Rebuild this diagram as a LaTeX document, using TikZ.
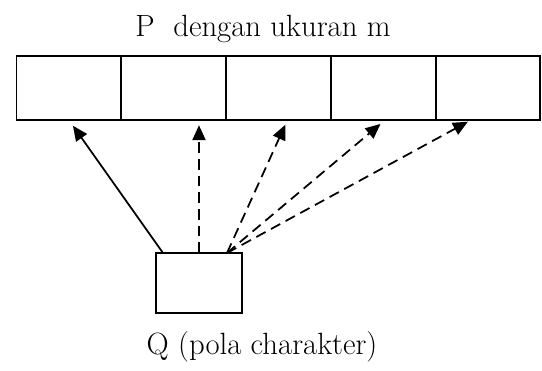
\documentclass[tikz,border=0pt]{standalone}
\usepackage{tikz}
\usetikzlibrary{arrows.meta,positioning,calc}

\begin{document}
\begin{tikzpicture}[
  x=0.02cm,y=0.02cm,
  font=\fontsize{17.5}{20}\selectfont,
  cell/.style={draw,line width=1.1pt,minimum width=2.096cm,minimum height=1.28cm,outer sep=0pt,inner sep=0pt},
  qbox/.style={draw,line width=1.1pt,minimum width=1.72cm,minimum height=1.2cm,outer sep=0pt,inner sep=0pt},
  arr/.style={-{Triangle[length=8.5pt,width=7.5pt]},line width=1pt},
  darr/.style={arr,dash pattern=on 6pt off 3.5pt},
]
\useasboundingbox (0,0) rectangle (542,370);

% array P
\node[cell] (c1) at (68.9,282) {};
\node[cell,right=0pt of c1] (c2) {};
\node[cell,right=0pt of c2] (c3) {};
\node[cell,right=0pt of c3] (c4) {};
\node[cell,right=0pt of c4] (c5) {};
\node (ptitle) at (263,341) {P\ \ dengan ukuran m};

% pattern Q
\node[qbox] (q) at (199,87) {};
\node (qlabel) at (262,23) {Q (pola charakter)};

\coordinate (qa) at ($(q.north west)+(7,0)$);
\coordinate (qb) at ($(q.north east)+(-15,0)$);

\draw[arr,shorten >=4pt] (qa) -- (c1.south);
\draw[darr,shorten >=3pt] (q.north) -- (q.north |- c2.south);
\draw[darr,shorten >=3pt] (qb) -- ($(c3.south)+(9,0)$);
\draw[darr,shorten >=3.5pt] (qb) -- ($(c4.south)+(2,0)$);
\draw[darr,shorten >=2pt] (qb) -- ($(c5.south)+(-17,0)$);
\end{tikzpicture}
\end{document}
